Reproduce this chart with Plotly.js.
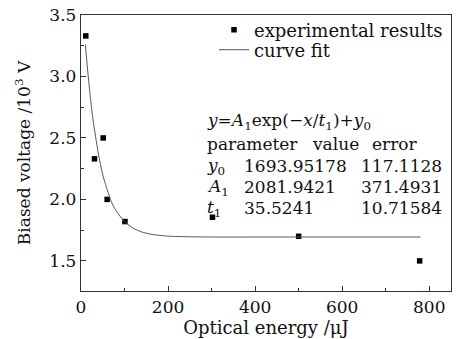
<!DOCTYPE html>
<html>
<head>
<meta charset="utf-8">
<script src="https://cdn.plot.ly/plotly-3.0.1.min.js"></script>
<style>html,body{margin:0;padding:0;background:#fff;}#chart{width:457px;height:339px;}</style>
</head>
<body>
<div id="chart"></div>
<script>
// Experimental points (Optical energy in uJ, Biased voltage in 10^3 V)
const expEnergy = [11, 31, 51, 60, 101, 302, 500, 778];
const expVoltage = [3.33, 2.33, 2.50, 2.00, 1.82, 1.855, 1.70, 1.50];

// Curve fit
const fitEnergy = [10, 15, 20, 25, 30, 40, 50, 60, 70, 80, 100, 120, 140, 160, 200, 250, 300, 400, 500, 600, 700, 780];
const fitVoltage = [3.26, 3.06, 2.88, 2.72, 2.59, 2.37, 2.20, 2.08, 1.98, 1.91, 1.82, 1.765, 1.735, 1.717, 1.701, 1.696, 1.694, 1.694, 1.694, 1.694, 1.694, 1.694];

const xTickVals = [0, 200, 400, 600, 800];
const yTickVals = [1.5, 2.0, 2.5, 3.0, 3.5];

const fitEquation = "<i>y</i>=<i>A</i><sub>1</sub>exp(−<i>x</i>/<i>t</i><sub>1</sub>)+<i>y</i><sub>0</sub>";
const tableHeader = ["parameter", "value", "error"];
const paramNames = ["<i>y</i><sub>0</sub>", "<i>A</i><sub>1</sub>", "<i>t</i><sub>1</sub>"];
const paramValues = ["1693.95178", "2081.9421", "35.5241"];
const paramErrors = ["117.1128", "371.4931", "10.71584"];

const W = 457, H = 339;
const M = {l: 81, r: 6, t: 15, b: 48};
const pw = W - M.l - M.r, ph = H - M.t - M.b;
const px = x => (x - M.l) / pw;
const py = y => (H - M.b - y) / ph;
const FONT = "DejaVu Serif, Liberation Serif, serif";

const annFont = {family: FONT, size: 17, color: "#111"};
const annotations = [];
function addAnn(text, xpix, ypix) {
  annotations.push({text: text, xref: "paper", yref: "paper", x: px(xpix), y: py(ypix),
    xanchor: "left", yanchor: "middle", showarrow: false, font: annFont, borderpad: 0});
}
addAnn(fitEquation, 206, 121);
const headerX = [206, 311, 371];
tableHeader.forEach((t, i) => addAnn(t, headerX[i], 144));
const rowY = [166, 187, 208];
paramNames.forEach((t, i) => {
  addAnn(t, 206, rowY[i]);
  addAnn(paramValues[i], 243, rowY[i]);
  addAnn(paramErrors[i], 360, rowY[i]);
});

const traces = [
  {x: expEnergy, y: expVoltage, mode: "markers", type: "scatter", name: "experimental results",
   marker: {symbol: "square", size: 5.5, color: "#000"}, legend: "legend"},
  {x: fitEnergy, y: fitVoltage, mode: "lines", type: "scatter", name: "curve fit",
   line: {color: "#555", width: 1, shape: "spline", smoothing: 0.6}, legend: "legend2"}
];

const axisCommon = {
  showgrid: false, zeroline: false, showline: true, mirror: true,
  linecolor: "#333", linewidth: 1.2, ticks: "inside", ticklen: 5, tickcolor: "#333", tickwidth: 1,
  tickfont: {family: FONT, size: 17, color: "#111"}
};

const legFont = {family: FONT, size: 18, color: "#111"};
const layout = {
  width: W, height: H,
  margin: M,
  paper_bgcolor: "#fff", plot_bgcolor: "#fff",
  showlegend: true,
  legend: {x: px(214), y: py(30), xanchor: "left", yanchor: "middle", bgcolor: "rgba(0,0,0,0)",
    font: legFont, itemwidth: 30},
  legend2: {x: px(214), y: py(50), xanchor: "left", yanchor: "middle", bgcolor: "rgba(0,0,0,0)",
    font: legFont, itemwidth: 30},
  xaxis: Object.assign({}, axisCommon, {
    range: [0, 850], tickvals: xTickVals,
    minor: {dtick: 100, tick0: 0, ticks: "inside", ticklen: 3, tickcolor: "#333"},
    title: {text: "Optical energy /μJ", font: {family: FONT, size: 18, color: "#111"}, standoff: 3}
  }),
  yaxis: Object.assign({}, axisCommon, {
    range: [1.255, 3.5], tickvals: yTickVals, ticktext: yTickVals.map(v => v.toFixed(1)),
    minor: {dtick: 0.25, tick0: 1.5, ticks: "inside", ticklen: 3, tickcolor: "#333"},
    title: {text: "Biased voltage /10<sup>3</sup> V", font: {family: FONT, size: 17, color: "#111"}, standoff: 14}
  }),
  annotations: annotations
};

Plotly.newPlot("chart", traces, layout, {staticPlot: true, displayModeBar: false});
</script>
</body>
</html>
